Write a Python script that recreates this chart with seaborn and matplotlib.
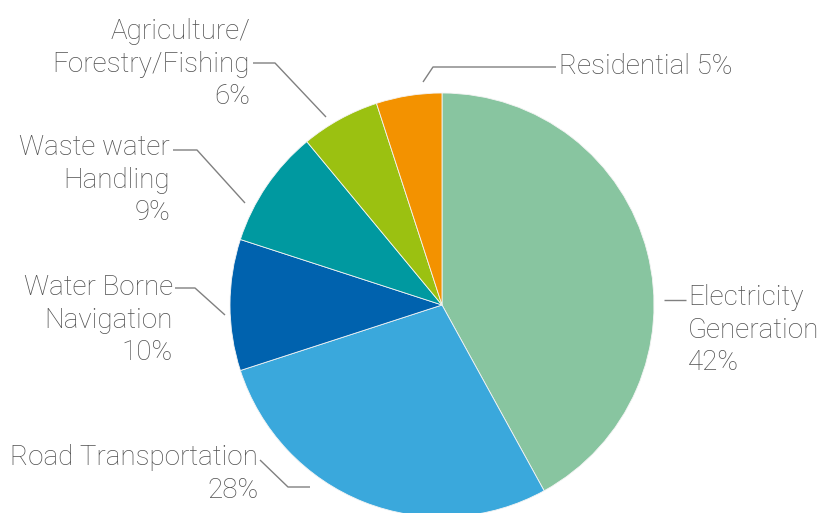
import matplotlib
matplotlib.use("Agg")
import matplotlib.pyplot as plt
import seaborn as sns

# emission shares by sector, clockwise from 12 o'clock
sectors = ["Electricity\nGeneration", "Road Transportation", "Water Borne\nNavigation",
           "Waste water\nHandling", "Agriculture/\nForestry/Fishing", "Residential"]
shares = [42, 28, 10, 9, 6, 5]
colors = ["#88c5a0", "#3aa8dc", "#0062ae", "#0099a0", "#9bc111", "#f39200"]

sns.set_theme(style="white")
plt.rcParams["font.family"] = ["Roboto", "DejaVu Sans"]

W, H = 830, 513
fig = plt.figure(figsize=(W / 100, H / 100), dpi=100)
ax = fig.add_axes([0, 0, 1, 1])

# y axis is inverted so everything below is in picture pixels
ax.pie(shares, colors=colors, startangle=-90, counterclock=True,
       center=(442, 305), radius=212, frame=True,
       wedgeprops=dict(linewidth=0.6, edgecolor="#f4f4f4"))
ax.set_xlim(0, W)
ax.set_ylim(H, 0)
ax.set_aspect("equal")
ax.axis("off")

text_kw = dict(fontsize=20, color="#505050", fontweight="light", linespacing=1.28)
line_kw = dict(color="#808080", linewidth=1.0, solid_capstyle="butt")

# label text, anchor (x, y), alignment, leader line points
labels = [
    (0, (688, 330), "left", [(664, 300), (686, 300)]),
    (1, (258, 474), "right", [(260, 460), (288, 487), (310, 487)]),
    (2, (173, 320), "right", [(175, 288), (195, 288), (225, 315)]),
    (3, (170, 180), "right", [(173, 150), (197, 150), (245, 203)]),
    (4, (250, 64), "right", [(253, 63), (275, 63), (326, 117)]),
    (5, (559, 67), "left", [(423, 82), (433, 67), (556, 67)]),
]

for i, (x, y), ha, pts in labels:
    txt = f"{sectors[i]}\n{shares[i]}%" if i != 5 else f"{sectors[i]} {shares[i]}%"
    ax.text(x, y, txt, ha=ha, va="center", multialignment=ha, **text_kw)
    xs, ys = zip(*pts)
    ax.plot(xs, ys, **line_kw)

fig.savefig("out.png", dpi=100)
